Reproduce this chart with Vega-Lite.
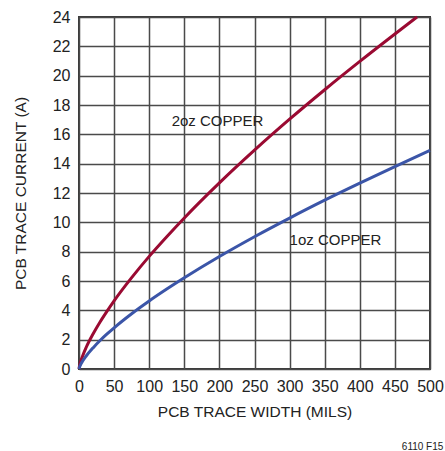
{
  "$schema": "https://vega.github.io/schema/vega-lite/v6.json",
  "width": 351,
  "height": 352,
  "autosize": "none",
  "padding": {"left": 79, "top": 17, "right": 15, "bottom": 82},
  "background": "white",
  "config": {
    "font": "Liberation Sans",
    "view": {"stroke": "#3a3a3a", "strokeWidth": 2},
    "axis": {
      "grid": true, "gridColor": "#4a4a4a", "gridWidth": 1.5, "gridOpacity": 1,
      "domain": false, "ticks": false, "labelOverlap": false, "labelFlush": false,
      "labelFont": "Liberation Sans", "labelFontSize": 16, "labelColor": "#222",
      "titleFont": "Liberation Sans", "titleFontSize": 15.5, "titleFontWeight": "normal", "titleColor": "#222"
    }
  },
  "title": {"text": "6110 F15", "orient": "bottom", "anchor": "end", "fontSize": 10, "fontWeight": "normal", "font": "Liberation Sans", "color": "#222", "offset": 22},
  "datasets": {
    "curves": [
      {"w": 0, "i": 0, "s": "2oz"}, {"w": 1, "i": 0.27, "s": "2oz"}, {"w": 2, "i": 0.45, "s": "2oz"}, {"w": 5, "i": 0.87, "s": "2oz"},
      {"w": 10, "i": 1.45, "s": "2oz"}, {"w": 20, "i": 2.39, "s": "2oz"}, {"w": 30, "i": 3.21, "s": "2oz"}, {"w": 40, "i": 3.95, "s": "2oz"},
      {"w": 50, "i": 4.65, "s": "2oz"}, {"w": 75, "i": 6.23, "s": "2oz"}, {"w": 100, "i": 7.68, "s": "2oz"}, {"w": 125, "i": 9.02, "s": "2oz"},
      {"w": 150, "i": 10.30, "s": "2oz"}, {"w": 200, "i": 12.69, "s": "2oz"}, {"w": 250, "i": 14.92, "s": "2oz"}, {"w": 300, "i": 17.03, "s": "2oz"},
      {"w": 350, "i": 19.04, "s": "2oz"}, {"w": 400, "i": 20.97, "s": "2oz"}, {"w": 450, "i": 22.84, "s": "2oz"}, {"w": 481.5, "i": 24.0, "s": "2oz"},
      {"w": 0, "i": 0, "s": "1oz"}, {"w": 1, "i": 0.16, "s": "1oz"}, {"w": 2, "i": 0.27, "s": "1oz"}, {"w": 5, "i": 0.53, "s": "1oz"},
      {"w": 10, "i": 0.87, "s": "1oz"}, {"w": 20, "i": 1.44, "s": "1oz"}, {"w": 30, "i": 1.94, "s": "1oz"}, {"w": 40, "i": 2.39, "s": "1oz"},
      {"w": 50, "i": 2.81, "s": "1oz"}, {"w": 75, "i": 3.77, "s": "1oz"}, {"w": 100, "i": 4.64, "s": "1oz"}, {"w": 125, "i": 5.45, "s": "1oz"},
      {"w": 150, "i": 6.22, "s": "1oz"}, {"w": 200, "i": 7.67, "s": "1oz"}, {"w": 250, "i": 9.02, "s": "1oz"}, {"w": 300, "i": 10.29, "s": "1oz"},
      {"w": 350, "i": 11.51, "s": "1oz"}, {"w": 400, "i": 12.67, "s": "1oz"}, {"w": 450, "i": 13.80, "s": "1oz"}, {"w": 500, "i": 14.90, "s": "1oz"}
    ],
    "labels": [
      {"w": 132, "i": 16.9, "t": "2oz COPPER"},
      {"w": 300, "i": 8.8, "t": "1oz COPPER"}
    ]
  },
  "encoding": {
    "x": {"field": "w", "type": "quantitative", "scale": {"domain": [0, 500], "nice": false},
          "axis": {"values": [0, 50, 100, 150, 200, 250, 300, 350, 400, 450, 500], "title": "PCB TRACE WIDTH (MILS)", "labelPadding": 9, "titlePadding": 10}},
    "y": {"field": "i", "type": "quantitative", "scale": {"domain": [0, 24], "nice": false},
          "axis": {"values": [0, 2, 4, 6, 8, 10, 12, 14, 16, 18, 20, 22, 24], "title": "PCB TRACE CURRENT (A)", "labelPadding": 9, "titlePadding": 24}}
  },
  "layer": [
    {
      "data": {"name": "curves"},
      "mark": {"type": "line", "strokeWidth": 3, "interpolate": "monotone"},
      "encoding": {
        "color": {"field": "s", "type": "nominal", "scale": {"domain": ["2oz", "1oz"], "range": ["#9a0a32", "#3b55a8"]}, "legend": null},
        "detail": {"field": "s"}
      }
    },
    {
      "data": {"name": "labels"},
      "mark": {"type": "text", "align": "left", "baseline": "middle", "fontSize": 15, "color": "#222", "font": "Liberation Sans"},
      "encoding": {
        "text": {"field": "t"}
      }
    }
  ]
}
